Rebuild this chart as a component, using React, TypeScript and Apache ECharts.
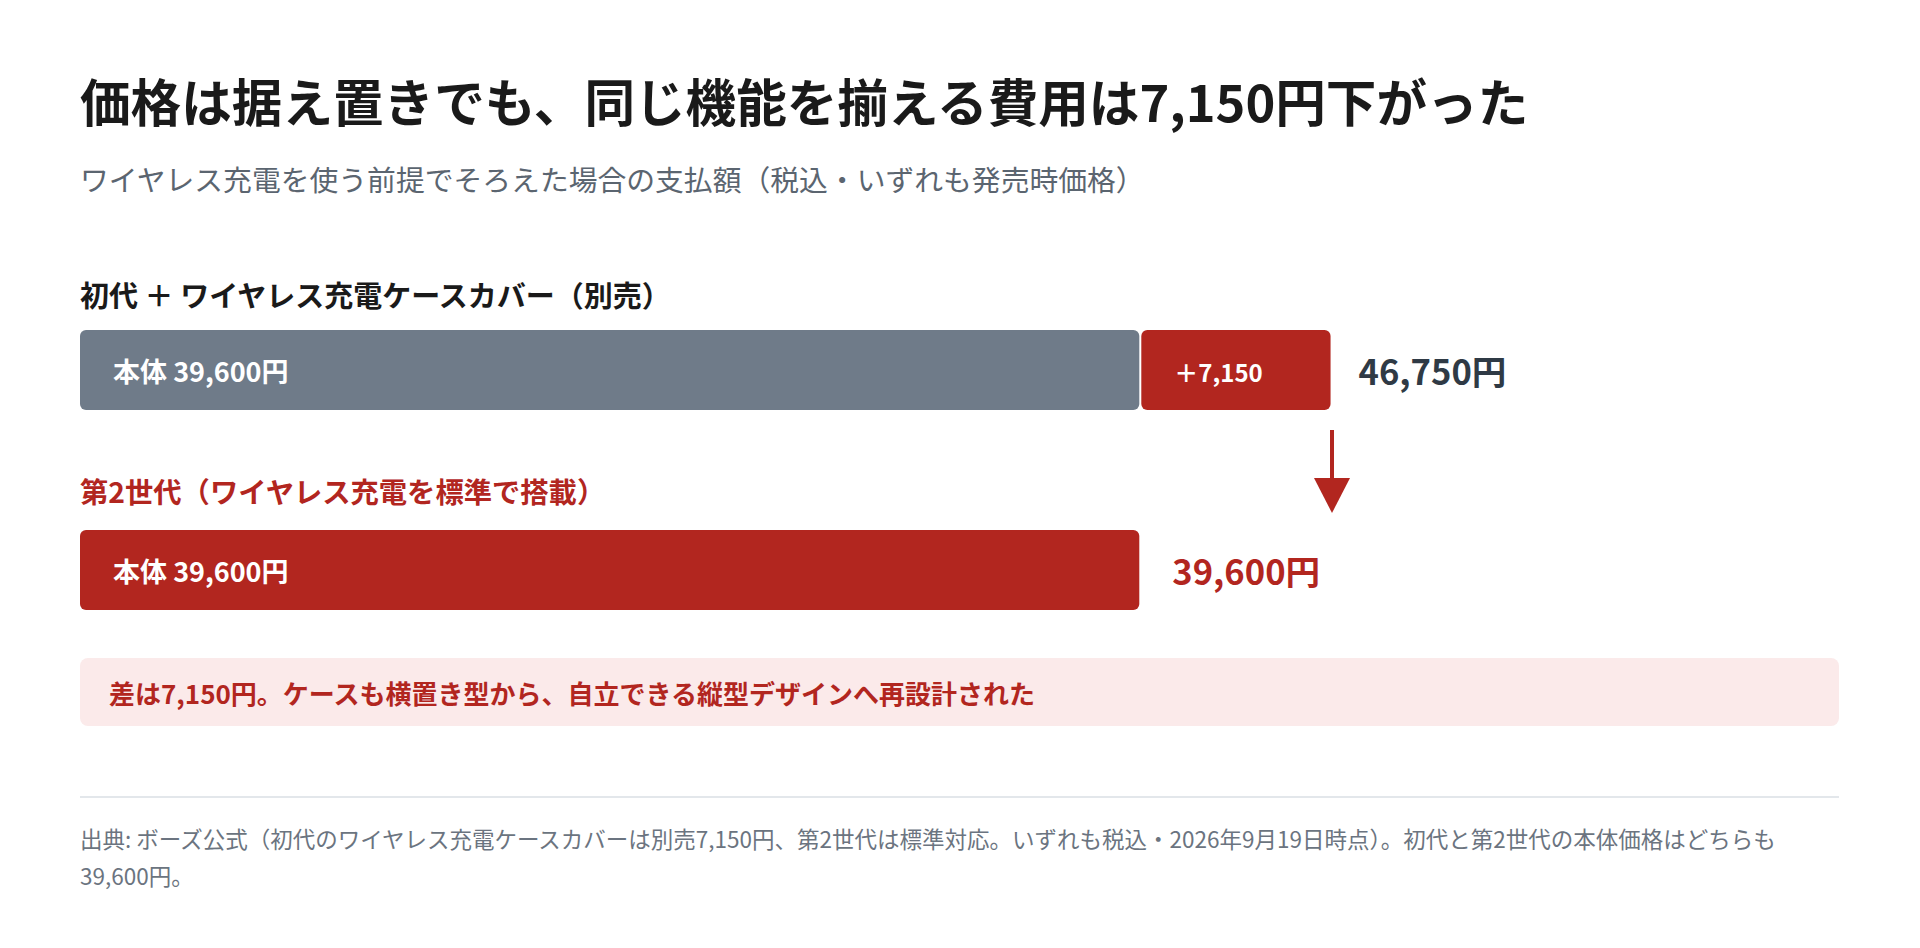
import React, { useEffect, useRef } from "react";
import * as echarts from "echarts";

const FONT = '"Noto Sans CJK JP", "Noto Sans", sans-serif';

const titleText = "価格は据え置きでも、同じ機能を揃える費用は7,150円下がった";
const subtitleText = "ワイヤレス充電を使う前提でそろえた場合の支払額（税込・いずれも発売時価格）";
const categories = ["初代 ＋ ワイヤレス充電ケースカバー（別売）", "第2世代（ワイヤレス充電を標準で搭載）"];
const bodyPrices = [39600, 39600];
const casePrices = [7150, 0];
const bodyLabels = ["本体 39,600円", "本体 39,600円"];
const caseLabels = ["＋7,150", ""];
const totalLabels = ["46,750円", "39,600円"];
const noteText = "差は7,150円。ケースも横置き型から、自立できる縦型デザインへ再設計された";
const sourceLines = [
  "出典: ボーズ公式（初代のワイヤレス充電ケースカバーは別売7,150円、第2世代は標準対応。いずれも税込・2026年9月19日時点）。初代と第2世代の本体価格はどちらも",
  "39,600円。",
];

const GRAY = "#6f7b89";
const RED = "#b2261f";
const DARK = "#2f3a45";

export default function App() {
  const ref = useRef<HTMLDivElement>(null);

  useEffect(() => {
    if (!ref.current) return;
    const chart = echarts.init(ref.current, undefined, { renderer: "svg" });
    const totals = bodyPrices.map((v, i) => v + casePrices[i]);
    const caseData = casePrices
      .map((v, i) => (v > 0 ? { value: [bodyPrices[i], bodyPrices[i] + v, i], label: caseLabels[i] } : null))
      .filter((d) => d !== null);

    chart.setOption({
      animation: false,
      backgroundColor: "#ffffff",
      grid: { left: 80, top: 270, width: 1605, height: 400 },
      xAxis: { type: "value", min: 0, max: 60000, show: false },
      yAxis: { type: "category", data: categories, inverse: true, show: false },
      series: [
        {
          type: "bar",
          barWidth: 80,
          data: bodyPrices.map((v, i) => ({
            value: v,
            itemStyle: { color: i === 0 ? GRAY : RED, borderRadius: 6 },
          })),
          label: {
            show: true,
            position: "insideLeft",
            distance: 33,
            formatter: (p: any) => bodyLabels[p.dataIndex],
            color: "#ffffff",
            fontFamily: FONT,
            fontWeight: "bold",
            fontSize: 27,
          },
        },
        {
          type: "custom",
          data: caseData,
          encode: { x: [0, 1], y: 2 },
          renderItem: (params: any, api: any) => {
            const cat = api.value(2);
            const s = api.coord([api.value(0), cat]);
            const e = api.coord([api.value(1), cat]);
            const h = 80;
            const x0 = s[0] + 2;
            return {
              type: "group",
              children: [
                {
                  type: "rect",
                  shape: { x: x0, y: s[1] - h / 2, width: e[0] - x0, height: h, r: 6 },
                  style: { fill: RED },
                },
                {
                  type: "text",
                  style: {
                    x: x0 + 33,
                    y: s[1] + 1,
                    text: (caseData[params.dataIndex] as any).label,
                    fill: "#ffffff",
                    fontFamily: FONT,
                    fontWeight: "bold",
                    fontSize: 24,
                    align: "left",
                    verticalAlign: "middle",
                  },
                },
              ],
            };
          },
        },
        {
          type: "scatter",
          symbolSize: 0,
          itemStyle: { opacity: 1 },
          data: totals.map((t, i) => ({
            value: [t, categories[i]],
            label: {
              color: i === 0 ? DARK : RED,
              distance: i === 0 ? 28 : 33,
            },
          })),
          label: {
            show: true,
            position: "right",
            formatter: (p: any) => totalLabels[p.dataIndex],
            fontFamily: FONT,
            fontWeight: "bold",
            fontSize: 34.6,
          },
        },
      ],
    });

    const top = chart.convertToPixel({ gridIndex: 0 }, [totals[0], 0]) as number[];
    const ax = Math.round(top[0]) + 1;

    chart.setOption({
      graphic: [
        {
          type: "text",
          left: 80,
          top: 70,
          style: { text: titleText, fontFamily: FONT, fontWeight: "bold", fontSize: 50.6, fill: "#1a1a1a", lineHeight: 60 },
        },
        {
          type: "text",
          left: 80,
          top: 178 - 17,
          style: { text: subtitleText, fontFamily: FONT, fontSize: 28.8, fill: "#5b6570", lineHeight: 34 },
        },
        {
          type: "text",
          left: 80,
          top: 294 - 17,
          style: { text: categories[0], fontFamily: FONT, fontWeight: "bold", fontSize: 29, fill: "#1a1a1a", lineHeight: 34 },
        },
        {
          type: "text",
          left: 80,
          top: 490 - 17,
          style: { text: categories[1], fontFamily: FONT, fontWeight: "bold", fontSize: 28.3, fill: RED, lineHeight: 34 },
        },
        {
          type: "rect",
          shape: { x: ax - 2, y: 430, width: 4, height: 52 },
          style: { fill: RED },
        },
        {
          type: "polygon",
          shape: { points: [[ax - 18, 478], [ax + 18, 478], [ax, 513]] },
          style: { fill: RED },
        },
        {
          type: "rect",
          shape: { x: 80, y: 658, width: 1759, height: 68, r: 8 },
          style: { fill: "#fbeaea" },
        },
        {
          type: "text",
          left: 109,
          top: 692 - 15,
          style: { text: noteText, fontFamily: FONT, fontWeight: "bold", fontSize: 26, fill: RED, lineHeight: 30 },
        },
        {
          type: "rect",
          shape: { x: 80, y: 796, width: 1759, height: 2 },
          style: { fill: "#e3e7eb" },
        },
        {
          type: "text",
          left: 80,
          top: 838 - 18.5,
          style: { text: sourceLines.join("\n"), fontFamily: FONT, fontSize: 22.5, fill: "#6b7480", lineHeight: 37 },
        },
      ],
    });

    return () => chart.dispose();
  }, []);

  return (
    <div
      ref={ref}
      style={{ position: "fixed", left: 0, top: 0, width: "1920px", height: "948px" }}
    />
  );
}
